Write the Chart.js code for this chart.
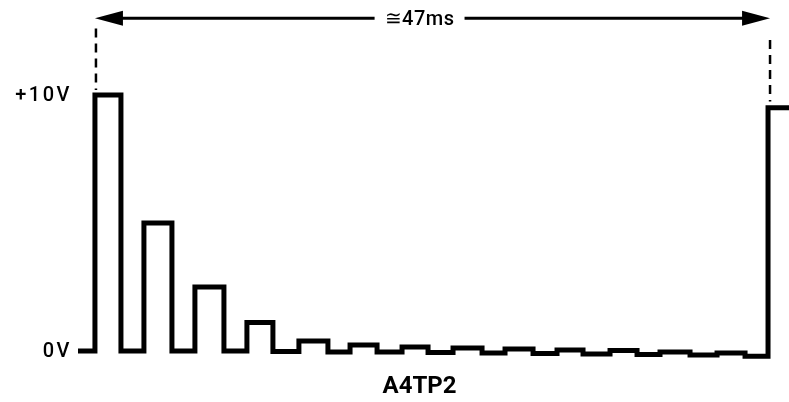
<!DOCTYPE html>
<html>
<head>
<meta charset="utf-8">
<script src="https://cdn.jsdelivr.net/npm/chart.js@4.4.0/dist/chart.umd.min.js"></script>
<style>
  html, body { margin: 0; padding: 0; background: #fff; }
  #wrap { width: 789px; height: 402px; position: relative; }
</style>
</head>
<body>
<div id="wrap"><canvas id="waveChart"></canvas></div>
<script>
// Pulse train (time in ms, level in volts)
const pulseStartMs = [0.0, 3.41, 6.96, 10.58, 14.20, 17.76, 21.38, 24.93, 28.55, 32.17, 35.86, 39.34, 43.31];
const pulseEndMs   = [1.81, 5.36, 8.98, 12.39, 16.22, 19.64, 23.19, 26.95, 30.50, 33.98, 37.74, 41.43, 45.26];
const pulseTopV    = [10, 5.0, 2.5, 1.11, 0.39, 0.23, 0.16, 0.12, 0.08, 0.04, 0.02, -0.04, -0.08];
const baseAfterV   = [0, 0, 0, -0.02, -0.04, -0.04, -0.06, -0.08, -0.10, -0.12, -0.14, -0.16, -0.20];
const traceStartMs = -1.18;
const traceEndMs = 48.32;
const nextPulseMs = 46.86;
const nextPulseV = 9.5;

// Labels
const periodMs = 47;
const periodLabel = "\u224547ms";
const levelTicks = [10, 0];
const levelLabels = ["+10V", "0V"];
const traceName = "A4TP2";

// Turn the pulse table into step points
const buildTrace = () => {
    const points = [{ x: traceStartMs, y: 0 }];
    pulseStartMs.forEach((start, i) => {
        points.push({ x: start, y: pulseTopV[i] });
        points.push({ x: pulseEndMs[i], y: baseAfterV[i] });
    });
    points.push({ x: nextPulseMs, y: nextPulseV });
    points.push({ x: traceEndMs, y: nextPulseV });
    return points;
};

// Draw arrowhead pointing along dir (-1 left, +1 right)
const arrowHead = (ctx, tipX, tipY, dir) => {
    ctx.beginPath();
    ctx.moveTo(tipX, tipY);
    ctx.lineTo(tipX - dir * 28, tipY - 7.5);
    ctx.lineTo(tipX - dir * 28, tipY + 7.5);
    ctx.closePath();
    ctx.fill();
};

// Period marker, dashed guides and text labels
const scopeMarks = {
    id: 'scopeMarks',
    afterDatasetsDraw(chart) {
        const { ctx, scales: { x, y } } = chart;
        ctx.save();
        ctx.strokeStyle = '#000';
        ctx.fillStyle = '#000';

        // dashed guides at both ends of the period
        ctx.lineWidth = 2.5;
        ctx.setLineDash([9, 6]);
        ctx.beginPath();
        ctx.moveTo(x.getPixelForValue(0.07), y.getPixelForValue(12.6));
        ctx.lineTo(x.getPixelForValue(0.07), y.getPixelForValue(10.2));
        ctx.moveTo(x.getPixelForValue(periodMs), y.getPixelForValue(12.15));
        ctx.lineTo(x.getPixelForValue(periodMs), y.getPixelForValue(9.75));
        ctx.stroke();
        ctx.setLineDash([]);

        // period arrow with label in a gap
        const ay = y.getPixelForValue(13.0);
        const x0 = x.getPixelForValue(0);
        const x1 = x.getPixelForValue(periodMs);
        const tx = x.getPixelForValue(22.6);
        ctx.font = '500 20px Roboto, "Liberation Sans", sans-serif';
        ctx.letterSpacing = '0.5px';
        const tw = ctx.measureText(periodLabel).width;
        ctx.lineWidth = 3;
        ctx.beginPath();
        ctx.moveTo(x0 + 20, ay);
        ctx.lineTo(tx - tw / 2 - 10, ay);
        ctx.moveTo(tx + tw / 2 + 10, ay);
        ctx.lineTo(x1 - 20, ay);
        ctx.stroke();
        arrowHead(ctx, x0, ay, -1);
        arrowHead(ctx, x1, ay, 1);
        ctx.textAlign = 'center';
        ctx.textBaseline = 'middle';
        ctx.fillText(periodLabel, tx, ay + 2);

        // voltage level labels
        ctx.font = '500 20px Roboto, "Liberation Sans", sans-serif';
        ctx.letterSpacing = '2.5px';
        ctx.textAlign = 'right';
        levelTicks.forEach((v, i) => {
            ctx.fillText(levelLabels[i], 72, y.getPixelForValue(v) + 1);
        });

        // test point name
        ctx.font = 'bold 24px Roboto, "Liberation Sans", sans-serif';
        ctx.letterSpacing = '0px';
        ctx.textAlign = 'center';
        ctx.fillText(traceName, tx, y.getPixelForValue(-1.41));
        ctx.restore();
    }
};

const renderWaveChart = () => {
    const ctx = document.getElementById('waveChart').getContext('2d');
    new Chart(ctx, {
        type: 'line',
        data: {
            datasets: [{
                label: traceName,
                data: buildTrace(),
                borderColor: '#000',
                borderWidth: 5,
                stepped: true,
                fill: false,
                pointRadius: 0,
                borderJoinStyle: 'miter',
                borderCapStyle: 'butt',
                clip: false,
            }],
        },
        options: {
            responsive: true,
            maintainAspectRatio: false,
            animation: false,
            layout: { padding: { left: 78, right: 0, top: 30, bottom: 30 } },
            plugins: {
                legend: { display: false },
                tooltip: { enabled: false },
            },
            scales: {
                x: { type: 'linear', display: false, min: traceStartMs, max: traceEndMs },
                y: { display: false, min: -0.82, max: 12.54 },
            },
        },
        plugins: [scopeMarks],
    });
};

document.addEventListener('DOMContentLoaded', renderWaveChart);
</script>
</body>
</html>
